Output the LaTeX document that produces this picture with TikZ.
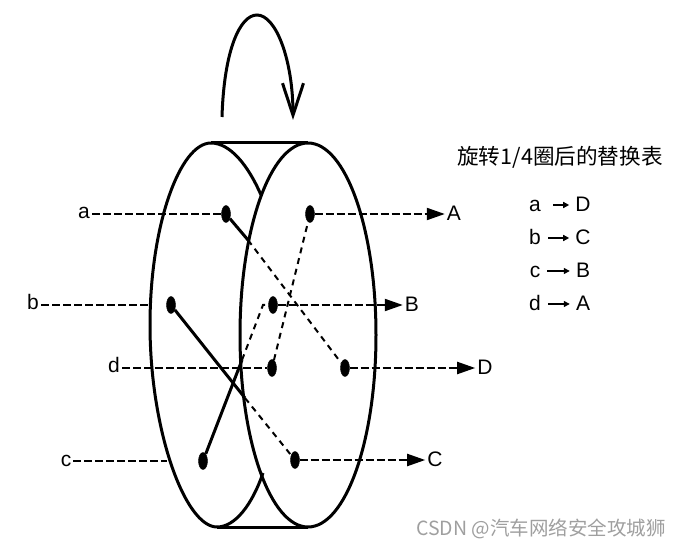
\documentclass[tikz,border=0pt]{standalone}
\usepackage{fontspec}
\setmainfont{Liberation Sans}
\newfontfamily\cjk{Noto Sans CJK SC}
\usetikzlibrary{arrows.meta, shapes.geometric}
\tikzset{
  pin/.style={draw, fill, ellipse, inner sep=0pt, minimum width=9pt, minimum height=17pt},
  letter/.style={inner sep=2pt, font=\fontsize{21}{21}\selectfont, text height=10pt, text depth=0pt},
  capital/.style={letter, text height=14pt},
  wire/.style={line width=2.1pt, dash pattern=on 8pt off 3pt},
  link/.style={line width=2pt, dash pattern=on 6pt off 5pt},
  rim/.style={line width=3pt},
  outgoing/.style={wire, -{Triangle[length=18pt, width=12pt]}},
  small/.style={line width=1.3pt, shorten <=5pt, shorten >=4pt, -{Triangle[length=6pt, width=6pt]}}
}

\begin{document}
\begin{tikzpicture}[x=1pt, y=-1pt]
  \useasboundingbox (0, 0) rectangle (681, 548);

  % Draw the two wheels
  \draw[rim] (308, 143) arc[start angle=90, end angle=450, x radius=68, y radius=-192];
  \draw[rim] (211, 143) .. controls (180, 143) and (150, 225) .. (150, 325)
    .. controls (150, 430) and (185, 527) .. (217, 527);
  \draw[rim] (211, 143) .. controls (230, 143) and (248, 165) .. (261, 195);
  \draw[rim] (217, 527) .. controls (235, 527) and (252, 505) .. (263, 473);
  \draw[rim] (211, 143) -- (308, 143);
  \draw[rim] (217, 527) -- (308, 527);

  % Draw the rotation arrow
  \draw[rim, -{Straight Barb[length=32pt, width=21pt]}] (222, 117)
    .. controls (224, 50) and (240, 15) .. (257, 15)
    .. controls (276, 15) and (293, 60) .. (293, 120);

  % Draw the pins
  \node[pin] (a1) at (226, 214) {};
  \node[pin] (b1) at (171, 305) {};
  \node[pin] (c1) at (203, 461) {};
  \node[pin] (d2) at (272, 368) {};
  \node[pin] (a2) at (310, 214) {};
  \node[pin] (b2) at (273, 305) {};
  \node[pin] (c2) at (295, 460) {};
  \node[pin] (d1) at (345, 368) {};

  % Add the letters
  \node[letter] (a) at (84, 214) {a};
  \node[letter] (b) at (33, 305) {b};
  \node[letter] (c) at (66, 461) {c};
  \node[letter] (d) at (114, 368) {d};
  \node[capital] (A) at (454, 214) {A};
  \node[capital] (B) at (412, 305) {B};
  \node[capital] (C) at (435, 460) {C};
  \node[capital] (D) at (485, 368) {D};

  % Points where the links go behind the wheel
  \coordinate (bin) at (150, 305);
  \coordinate (cin) at (167, 461);
  \coordinate (abend) at (248, 240);
  \coordinate (bbend) at (245, 398);
  \coordinate (cbend) at (242, 360);
  \coordinate (ctop) at (263, 305);

  % Draw the incoming lines
  \draw[wire] (a) -- (a1);
  \draw[wire] (b) -- (bin);
  \draw[wire] (c) -- (cin);
  \draw[wire] (d) -- (d2);

  % Draw the outgoing lines
  \draw[outgoing] (a2) -- (A);
  \draw[outgoing] (b2) -- (B);
  \draw[outgoing] (c2) -- (C);
  \draw[outgoing] (d1) -- (D);

  % Draw the front links
  \draw[rim] (a1) -- (abend);
  \draw[rim] (b1) -- (bbend);
  \draw[rim] (c1) -- (cbend);

  % Draw the hidden links
  \draw[link] (abend) -- (d1);
  \draw[link] (bbend) -- (c2);
  \draw[link] (cbend) -- (ctop) -- (b2);
  \draw[link] (d2) -- (a2);

  % Add the table
  \node[inner sep=0pt, font=\cjk\fontsize{21.6}{22}\selectfont] (title) at (560, 157) {旋转1/4圈后的替换表};
  \node[capital] (ta) at (535, 205) {a};
  \node[capital] (tb) at (535, 238) {b};
  \node[capital] (tc) at (535, 271) {c};
  \node[capital] (td) at (535, 304) {d};
  \node[capital] (tD) at (583, 205) {D};
  \node[capital] (tC) at (583, 238) {C};
  \node[capital] (tB) at (583, 271) {B};
  \node[capital] (tA) at (583, 304) {A};
  \coordinate (tstart) at (548, 205);
  \draw[small] (tstart) -- (tD);
  \draw[small] (tb) -- (tC);
  \draw[small] (tc) -- (tB);
  \draw[small] (td) -- (tA);

  % Add the watermark
  \node[inner sep=0pt, text=gray!75, font=\cjk\fontsize{19.5}{20}\selectfont] (mark) at (541, 529) {CSDN @汽车网络安全攻城狮};
\end{tikzpicture}
\end{document}
